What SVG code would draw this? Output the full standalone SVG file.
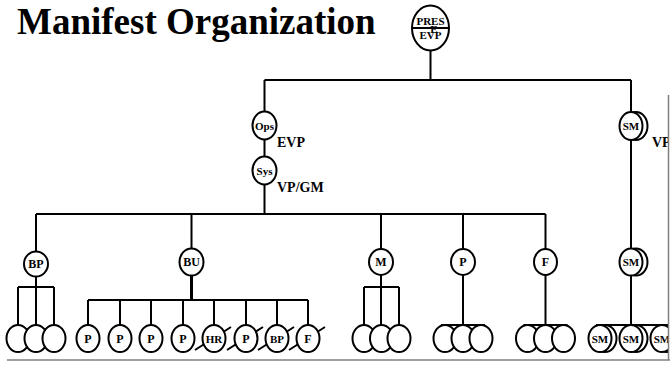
<svg xmlns="http://www.w3.org/2000/svg" width="670" height="379" viewBox="0 0 670 379">
  <defs>
    <style>
      .ln { stroke: #000; stroke-width: 2; fill: none; }
      .thick { stroke: #000; stroke-width: 3; fill: none; }
      .nd { fill: #fff; stroke: #000; stroke-width: 2; }
      .lb { font-family: "Liberation Serif", "Times New Roman", serif; font-weight: bold; font-size: 11px; text-anchor: middle; fill: #000; }
      .big { font-size: 12px; }
      .tag { font-family: "Liberation Serif", "Times New Roman", serif; font-weight: bold; font-size: 14px; fill: #000; }
      .title { font-family: "Liberation Serif", "Times New Roman", serif; font-weight: bold; font-size: 37px; fill: #000; }
      .frame { stroke: #808080; stroke-width: 1.5; fill: none; }
    </style>
    <clipPath id="slide">
      <rect x="0" y="0" width="668" height="379"/>
    </clipPath>
  </defs>

  <rect width="670" height="379" fill="#fff"/>

  <text class="title" x="17" y="34">Manifest Organization</text>

  <g clip-path="url(#slide)">
    <!-- connectors -->
    <g id="connectors">
      <path class="ln" d="M430.5 50 V80 M264.5 80 H631"/>
      <path class="ln" d="M264.5 80 V111.5 M264.5 139.5 V156.5 M264.5 184.5 V214"/>
      <path class="ln" d="M36 214 H545.5 M36 214 V251 M191.5 214 V249 M381 214 V249 M463 214 V249 M545.5 214 V249"/>
      <path class="ln" d="M631 80 V112 M631 140 V248 M631 276 V325 M596 325 H670"/>
      <!-- BP branch -->
      <path class="ln" d="M36 277 V287 M18 287 H54 M18 287 V325 M36 287 V325 M54 287 V325"/>
      <!-- BU branch -->
      <path class="thick" d="M191.5 275 V300"/>
      <path class="ln" d="M88 300 H308 M88 300 V325 M120 300 V325 M151 300 V325 M183 300 V325 M214 300 V325 M246 300 V325 M277 300 V325 M308 300 V325"/>
      <!-- M branch -->
      <path class="ln" d="M381 275 V287 M364 287 H399 M364 287 V325 M381 287 V325 M399 287 V325"/>
      <!-- P and F branches -->
      <path class="ln" d="M463 275 V325 M441 325 H485"/>
      <path class="ln" d="M545.5 275 V325 M523.5 325 H567.5"/>
      <!-- crossed-out positions -->
      <path class="ln" d="M195 350 L231 327 M227 350 L263 327 M258 350 L294 327 M289 350 L325 327"/>
    </g>

    <!-- top -->
    <g id="pres">
      <ellipse class="nd" cx="430.5" cy="28" rx="18.5" ry="22.5"/>
      <line class="ln" x1="412" y1="28" x2="449" y2="28"/>
      <text class="lb" x="430.5" y="25" font-size="12">PRES</text>
      <text class="lb" x="430.5" y="39" font-size="12">EVP</text>
      <text class="lb" x="434" y="33" font-size="13">E</text>
    </g>

    <g id="ops">
      <ellipse class="nd" cx="264.5" cy="125.5" rx="12" ry="14"/>
      <text class="lb" x="264.5" y="129.5" font-size="10.5">Ops</text>
      <text class="tag" x="277" y="147">EVP</text>
    </g>

    <g id="sys">
      <ellipse class="nd" cx="264.5" cy="170.5" rx="12" ry="14"/>
      <text class="lb" x="264.5" y="174.5" font-size="10.5">Sys</text>
      <text class="tag" x="277" y="192">VP/GM</text>
    </g>

    <g id="sm-vp">
      <ellipse class="nd" cx="636" cy="126" rx="11.5" ry="14"/>
      <ellipse class="nd" cx="631" cy="126" rx="11.5" ry="14"/>
      <text class="lb" x="631" y="130">SM</text>
      <text class="tag" x="652" y="147">VP</text>
    </g>

    <!-- second level -->
    <g id="bp">
      <ellipse class="nd" cx="36" cy="264" rx="12" ry="12.5"/>
      <text class="lb big" x="36" y="268">BP</text>
    </g>
    <g id="bu">
      <ellipse class="nd" cx="191.5" cy="262" rx="12" ry="13.5"/>
      <text class="lb big" x="191.5" y="266">BU</text>
    </g>
    <g id="m">
      <ellipse class="nd" cx="381" cy="262" rx="12" ry="13"/>
      <text class="lb big" x="381" y="266">M</text>
    </g>
    <g id="p">
      <ellipse class="nd" cx="463" cy="262" rx="12" ry="13"/>
      <text class="lb big" x="463" y="266">P</text>
    </g>
    <g id="f">
      <ellipse class="nd" cx="545.5" cy="262" rx="11.5" ry="13"/>
      <text class="lb big" x="545.5" y="266">F</text>
    </g>
    <g id="sm">
      <ellipse class="nd" cx="636" cy="262" rx="11.5" ry="13.5"/>
      <ellipse class="nd" cx="631" cy="262" rx="11.5" ry="13.5"/>
      <text class="lb" x="631" y="266">SM</text>
    </g>

    <!-- bottom row -->
    <g id="bp-staff">
      <ellipse class="nd" cx="18" cy="338.5" rx="11.5" ry="13.5"/>
      <ellipse class="nd" cx="36" cy="338.5" rx="11.5" ry="13.5"/>
      <ellipse class="nd" cx="54" cy="338.5" rx="11.5" ry="13.5"/>
    </g>

    <g id="bu-staff">
      <ellipse class="nd" cx="88" cy="338.5" rx="11.5" ry="13.5"/>
      <text class="lb big" x="88" y="342.5">P</text>
      <ellipse class="nd" cx="120" cy="338.5" rx="11.5" ry="13.5"/>
      <text class="lb big" x="120" y="342.5">P</text>
      <ellipse class="nd" cx="151" cy="338.5" rx="11.5" ry="13.5"/>
      <text class="lb big" x="151" y="342.5">P</text>
      <ellipse class="nd" cx="183" cy="338.5" rx="11.5" ry="13.5"/>
      <text class="lb big" x="183" y="342.5">P</text>
      <ellipse class="nd" cx="214" cy="338.5" rx="11.5" ry="13.5"/>
      <text class="lb" x="214" y="342.5">HR</text>
      <ellipse class="nd" cx="246" cy="338.5" rx="11.5" ry="13.5"/>
      <text class="lb big" x="246" y="342.5">P</text>
      <ellipse class="nd" cx="277" cy="338.5" rx="11.5" ry="13.5"/>
      <text class="lb" x="277" y="342.5">BP</text>
      <ellipse class="nd" cx="308" cy="338.5" rx="11.5" ry="13.5"/>
      <text class="lb big" x="308" y="342.5">F</text>
    </g>

    <g id="m-staff">
      <ellipse class="nd" cx="364" cy="338.5" rx="11.5" ry="13.5"/>
      <ellipse class="nd" cx="381.5" cy="338.5" rx="11.5" ry="13.5"/>
      <ellipse class="nd" cx="399" cy="338.5" rx="11.5" ry="13.5"/>
    </g>

    <g id="p-staff">
      <ellipse class="nd" cx="445" cy="338.5" rx="11.5" ry="13.5"/>
      <ellipse class="nd" cx="463" cy="338.5" rx="11.5" ry="13.5"/>
      <ellipse class="nd" cx="481" cy="338.5" rx="11.5" ry="13.5"/>
    </g>

    <g id="f-staff">
      <ellipse class="nd" cx="527.5" cy="338.5" rx="11.5" ry="13.5"/>
      <ellipse class="nd" cx="545.5" cy="338.5" rx="11.5" ry="13.5"/>
      <ellipse class="nd" cx="563.5" cy="338.5" rx="11.5" ry="13.5"/>
    </g>

    <g id="sm-staff">
      <ellipse class="nd" cx="605" cy="338.5" rx="11.5" ry="13.5"/>
      <ellipse class="nd" cx="600" cy="338.5" rx="11.5" ry="13.5"/>
      <text class="lb" x="600" y="342.5">SM</text>
      <ellipse class="nd" cx="636" cy="338.5" rx="11.5" ry="13.5"/>
      <ellipse class="nd" cx="631" cy="338.5" rx="11.5" ry="13.5"/>
      <text class="lb" x="631" y="342.5">SM</text>
      <ellipse class="nd" cx="667" cy="338.5" rx="11.5" ry="13.5"/>
      <ellipse class="nd" cx="662" cy="338.5" rx="11.5" ry="13.5"/>
      <text class="lb" x="662" y="342.5">SM</text>
    </g>
  </g>

  <!-- slide edge -->
  <path class="frame" d="M668.5 95 V360 M7 360 H670"/>
</svg>
